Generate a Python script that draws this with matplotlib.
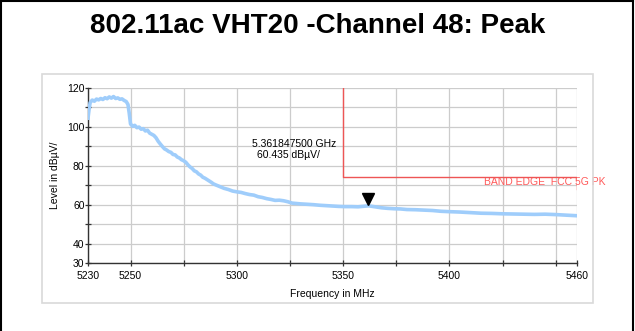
import matplotlib
matplotlib.use("Agg")
import matplotlib.pyplot as plt
from matplotlib.lines import Line2D
from matplotlib.patches import Rectangle
import matplotlib.transforms as mtransforms

plt.rcParams["font.family"] = ["Liberation Sans", "DejaVu Sans"]

title = "802.11ac VHT20 -Channel 48: Peak"

# spectrum trace (MHz, dBuV)
freq_mhz = [
    5230, 5230.5, 5231, 5232, 5233, 5234, 5235, 5236, 5237, 5238, 5239, 5240,
    5241, 5242, 5243, 5244, 5245, 5246, 5247, 5248, 5248.8, 5249.4, 5250,
    5251, 5252, 5253, 5254, 5255, 5256, 5257, 5258, 5259, 5260, 5261, 5262,
    5263, 5264, 5265, 5266, 5267, 5268, 5269, 5270, 5271, 5272, 5273, 5274,
    5275, 5276, 5277, 5278, 5279, 5280, 5281, 5282, 5283, 5284, 5285, 5286,
    5287, 5288, 5289, 5290, 5292, 5294, 5296, 5298, 5300, 5302, 5304, 5306,
    5308, 5310, 5312, 5314, 5316, 5318, 5320, 5322, 5324, 5326, 5328, 5330,
    5333, 5336, 5339, 5342, 5345, 5348, 5351, 5354, 5357, 5360, 5362, 5365,
    5368, 5371, 5374, 5377, 5380, 5384, 5388, 5392, 5396, 5400, 5405, 5410,
    5415, 5420, 5425, 5430, 5435, 5440, 5445, 5450, 5455, 5460,
]
level_dbuv = [
    104.5, 109.0, 112.5, 113.8, 113.2, 114.3, 113.9, 114.6, 114.1, 115.0, 114.5, 115.4,
    114.8, 115.6, 114.6, 114.9, 114.2, 114.4, 113.6, 113.0, 111.5, 107.0, 101.5,
    100.3, 100.8, 99.6, 99.9, 98.8, 99.1, 97.9, 98.3, 96.8, 96.2, 95.6, 94.4,
    92.6, 91.2, 89.9, 88.7, 88.1, 87.3, 86.9, 85.8, 85.6, 84.5, 84.0, 83.1,
    82.6, 81.8, 80.5, 79.4, 78.6, 77.4, 76.9, 75.8, 75.2, 74.1, 73.6, 72.9,
    72.2, 71.5, 70.7, 70.2, 69.3, 68.4, 67.8, 67.0, 66.6, 66.3, 65.7, 65.2,
    64.9, 64.1, 63.7, 63.1, 62.7, 62.2, 62.3, 62.0, 61.5, 60.8, 60.6, 60.4,
    60.2, 60.0, 59.7, 59.5, 59.3, 59.1, 59.0, 59.0, 58.9, 59.2, 59.4, 58.9,
    58.4, 58.1, 57.9, 57.8, 57.5, 57.4, 57.2, 57.0, 56.6, 56.4, 56.2, 55.9,
    55.6, 55.5, 55.3, 55.2, 55.1, 55.0, 55.1, 54.9, 54.6, 54.3,
]

# limit line: band edge FCC 5G PK
limit_x = [5350, 5350, 5460, 5460]
limit_y = [120, 74, 74, 68]
limit_label = "BAND EDGE  FCC 5G PK"

marker_freq = 5361.8475
marker_level = 60.435
marker_text = ["5.361847500 GHz", "60.435 dBµV/"]

xticks_major = [5230, 5250, 5300, 5350, 5400, 5460]
xticks_minor = [5275, 5325, 5375, 5425, 5450]
yticks_major = [30, 40, 60, 80, 100, 120]
yticks_minor = [50, 70, 90, 110]

fig = plt.figure(figsize=(6.35, 3.31), dpi=100)
W, H = 635, 331

# outer black frame (left, top, right)
fig.add_artist(Line2D([1 / W, 1 / W], [0, 1], color="black", lw=1.5))
fig.add_artist(Line2D([0, 633 / W], [1 - 1 / H, 1 - 1 / H], color="black", lw=1.5))
fig.add_artist(Line2D([633 / W, 633 / W], [0, 1], color="black", lw=1.5))

# light grey inner panel
fig.add_artist(Rectangle((42 / W, (H - 303) / H), 551 / W, 229 / H,
                         fill=False, edgecolor="#d9d9d9", lw=1.2))

fig.text(0.5, 1 - 26 / H, title, ha="center", va="center",
         fontsize=20, fontweight="bold")

ax = fig.add_axes([88 / W, (H - 263) / H, (577 - 88) / W, 175 / H])
ax.set_xlim(5230, 5460)
ax.set_ylim(30, 120)

ax.plot(freq_mhz, level_dbuv, color="#9fcdfb", lw=2.6, solid_joinstyle="round", zorder=3)
ax.plot(limit_x, limit_y, color="#ee5555", lw=1.0, zorder=4)
ax.text(5416.2, 71.6, limit_label, color="#ff5a5a", fontsize=7.5,
        ha="left", va="center", clip_on=False)

off = mtransforms.offset_copy(ax.transData, fig=fig, y=5, units="dots")
ax.plot([marker_freq], [marker_level], marker="v", color="black",
        markersize=9, transform=off, zorder=5)
ax.text(5327.1, 91.2, marker_text[0], fontsize=7.5, ha="center", va="center")
ax.text(5324.3, 85.6, marker_text[1], fontsize=7.5, ha="center", va="center")

ax.set_xticks(xticks_major)
ax.set_xticks(xticks_minor, minor=True)
ax.set_yticks(yticks_major)
ax.set_yticks(yticks_minor, minor=True)
ax.tick_params(which="both", direction="inout", length=5, width=0.9,
               color="#333333", labelsize=7.5)
ax.tick_params(axis="x", pad=3)
ax.tick_params(axis="y", pad=0)
ax.grid(True, which="both", color="#cccccc", lw=0.9, zorder=0)
ax.set_axisbelow(True)

for s in ["top", "right"]:
    ax.spines[s].set_visible(False)
for s in ["left", "bottom"]:
    ax.spines[s].set_color("#333333")
    ax.spines[s].set_linewidth(1.0)

ax.set_xlabel("Frequency in MHz", fontsize=7.5, labelpad=6)
ax.set_ylabel("Level in dBµV/", fontsize=7.5, labelpad=5)

fig.savefig("out.png", dpi=100)
